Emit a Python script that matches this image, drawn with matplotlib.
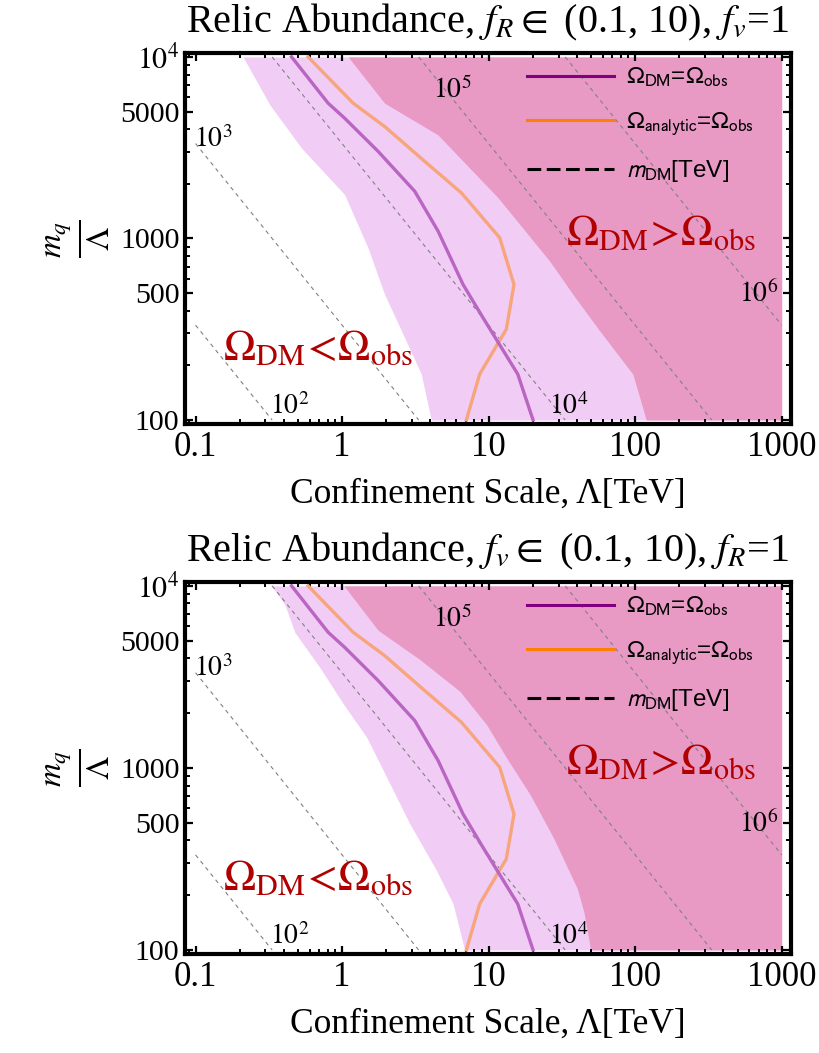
import numpy as np
import matplotlib
matplotlib.use("Agg")
import matplotlib.pyplot as plt
from matplotlib.lines import Line2D
from matplotlib.ticker import FixedLocator, NullFormatter

plt.rcParams['font.family'] = ['Liberation Serif', 'DejaVu Serif']
plt.rcParams['mathtext.fontset'] = 'stix'

# Omega_DM = Omega_obs (same curve in both panels)
dm_lam = [0.452, 0.803, 1.04, 1.76, 3.13, 4.52, 6.69, 9.15, 15.8, 20.1]
dm_y = [10000, 5560, 4600, 3020, 1820, 1097, 558, 366, 179, 100]

# Omega_analytic = Omega_obs
an_lam = [0.586, 1.19, 1.95, 3.66, 6.52, 11.9, 14.9, 13.2, 8.69, 7.05]
an_y = [10000, 5560, 4140, 2660, 1782, 1009, 558, 316, 179, 100]

# band edges, top panel (f_R varied)
top_light_lam = [0.211, 0.321, 0.528, 1.04, 1.50, 1.95, 2.54, 3.47, 4.06]
top_light_y = [10000, 5450, 3150, 1746, 889, 492, 310, 179, 100]
top_dark_lam = [1.10, 1.95, 4.51, 11.6, 26.1, 37.6, 57.2, 96.4, 119]
top_dark_y = [10000, 5560, 3720, 1675, 750, 492, 310, 179, 100]

# band edges, bottom panel (f_v varied)
bot_light_lam = [0.330, 0.406, 0.476, 0.705, 1.02, 1.47, 2.01, 2.89, 4.40, 5.71, 6.86]
bot_light_y = [10000, 7930, 5550, 3560, 2245, 1475, 891, 495, 274, 180, 100]
bot_dark_lam = [1.03, 1.76, 3.39, 6.37, 9.71, 13.3, 19.3, 27.9, 40.3, 44.7, 49.7]
bot_dark_y = [10000, 5700, 3940, 2632, 1722, 1130, 708, 408, 217, 161, 100]

# m_DM contours: end points and labels
mdm_labels = ['$10^2$', '$10^3$', '$10^4$', '$10^5$', '$10^6$']
mdm_lam0 = [0.1, 0.1, 0.333, 3.33, 33.3]
mdm_y0 = [333, 3333, 10000, 10000, 10000]
mdm_lam1 = [0.333, 3.33, 33.3, 333, 1000]
mdm_y1 = [100, 100, 100, 100, 333]
mdm_text_lam = [0.44, 0.1315, 35.2, 5.69, 692]
mdm_text_y = [119, 3500, 119, 6590, 492]

xticks = [0.1, 1, 10, 100, 1000]
xticklabels = ['0.1', '1', '10', '100', '1000']
yticks = [100, 500, 1000, 5000, 10000]
yticklabels = ['100', '500', '1000', '5000', '$10^4$']

light = '#f1cdf6'
dark = '#e89ac5'
red = '#b00000'

fig = plt.figure(figsize=(8.2, 10.53), dpi=100)
ax1 = fig.add_axes([0.2256, 0.5973, 0.739, 0.3523])
ax2 = fig.add_axes([0.2256, 0.0940, 0.739, 0.3533])

panels = [
    (ax1, top_light_lam, top_light_y, top_dark_lam, top_dark_y,
     r'Relic Abundance, $f_R \in$ (0.1, 10), $f_v$=1'),
    (ax2, bot_light_lam, bot_light_y, bot_dark_lam, bot_dark_y,
     r'Relic Abundance, $f_v \in$ (0.1, 10), $f_R$=1'),
]

for ax, ll, ly, dl, dy, title in panels:
    ax.fill_betweenx(ly, ll, 1000, color=light, lw=0)
    ax.fill_betweenx(dy, dl, 1000, color=dark, lw=0)

    for i in range(len(mdm_labels)):
        ax.plot([mdm_lam0[i], mdm_lam1[i]], [mdm_y0[i], mdm_y1[i]],
                color='#808080', lw=0.8, dashes=(3.6, 3.6))
        ax.text(mdm_text_lam[i], mdm_text_y[i], mdm_labels[i], fontsize=20,
                ha='center', va='center')

    ax.plot(an_lam, an_y, color='#f6a57d', lw=2.4)
    ax.plot(dm_lam, dm_y, color='#b965c2', lw=2.4)

    ax.text(0.219, 0.20, r'$\Omega_{\rm DM}\!<\!\Omega_{\rm obs}$', color=red,
            fontsize=31, ha='center', va='center', transform=ax.transAxes)
    ax.text(0.785, 0.512, r'$\Omega_{\rm DM}\!>\!\Omega_{\rm obs}$', color=red,
            fontsize=31, ha='center', va='center', transform=ax.transAxes)

    ax.set_xscale('log')
    ax.set_yscale('log')
    ax.set_xlim(0.0847, 1157)
    ax.set_ylim(95, 10500)

    ax.set_xticks(xticks)
    ax.set_xticklabels(xticklabels)
    ax.set_yticks(yticks)
    ax.set_yticklabels(yticklabels)
    xminor = [m * d for d in [0.01, 0.1, 1, 10, 100] for m in range(2, 10)]
    ax.xaxis.set_minor_locator(FixedLocator(xminor))
    yminor = [m * d for d in [10, 100, 1000] for m in range(2, 10) if m != 5]
    ax.yaxis.set_minor_locator(FixedLocator(yminor))
    ax.xaxis.set_minor_formatter(NullFormatter())
    ax.yaxis.set_minor_formatter(NullFormatter())
    ax.tick_params(which='both', direction='in', top=True, right=True)
    ax.tick_params(axis='x', which='major', labelsize=25, pad=5)
    ax.tick_params(axis='y', which='major', labelsize=21.5, pad=4)
    ax.tick_params(which='major', length=6, width=1.6)
    ax.tick_params(which='minor', length=3.5, width=1.4)
    for s in ax.spines.values():
        s.set_linewidth(3)

    ax.set_title(title, fontsize=29, pad=15)
    ax.set_xlabel('Confinement Scale, Λ[TeV]', fontsize=25.5, labelpad=10)
    ax.set_ylabel(r'$\frac{m_q}{\Lambda}$', fontsize=34, labelpad=6)

    handles = [Line2D([], [], color='#800080', lw=2.2),
               Line2D([], [], color='#ff8000', lw=2.2),
               Line2D([], [], color='black', lw=2.2, dashes=(4.5, 1.8))]
    names = [r'$\Omega_{\rm DM}$=$\Omega_{\rm obs}$',
             r'$\Omega_{\rm analytic}$=$\Omega_{\rm obs}$',
             r'$m_{\rm DM}$[TeV]']
    leg = ax.legend(handles, names, loc='upper left', bbox_to_anchor=(0.564, 0.965),
                    frameon=False, handlelength=3.6, handletextpad=0.5,
                    labelspacing=0.85, borderpad=0, borderaxespad=0,
                    prop={'family': 'Liberation Sans', 'size': 17.5})
    for t in leg.get_texts():
        t.set_math_fontfamily('stixsans')

fig.savefig('out.png', dpi=100)
